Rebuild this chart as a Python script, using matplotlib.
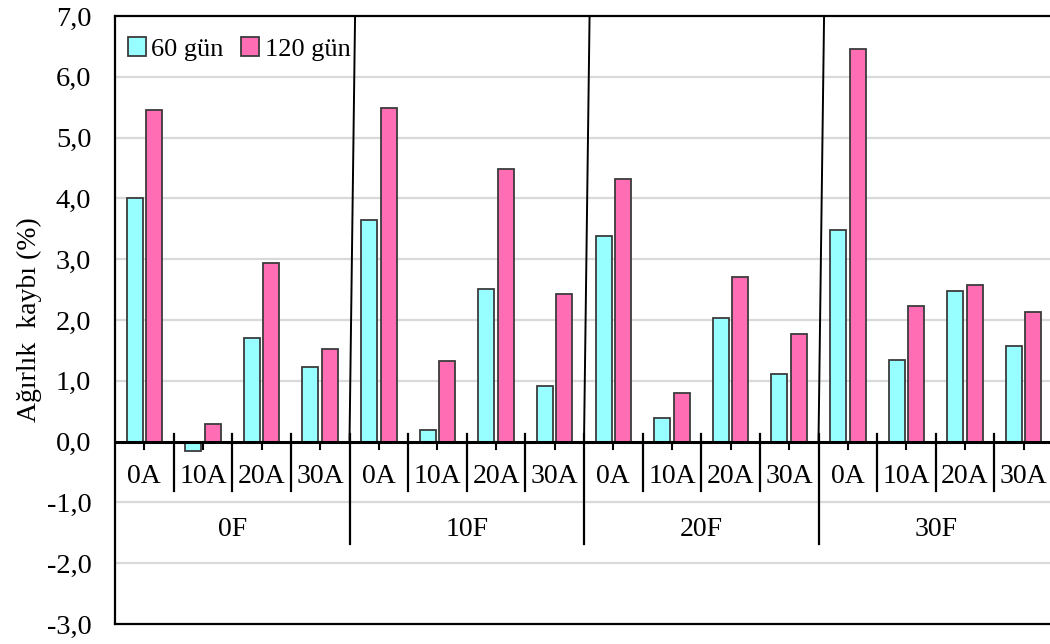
import matplotlib
matplotlib.use("Agg")
import matplotlib.pyplot as plt
import numpy as np

plt.rcParams['font.family'] = ['Liberation Serif', 'DejaVu Serif']

# Weight loss (%) after 60 and 120 days for each mix
groups = ["0F", "10F", "20F", "30F"]
subgroups = ["0A", "10A", "20A", "30A"]
loss_60 = [4.00, -0.15, 1.71, 1.23,
           3.64, 0.19, 2.51, 0.91,
           3.38, 0.38, 2.03, 1.12,
           3.48, 1.35, 2.48, 1.58]
loss_120 = [5.45, 0.29, 2.93, 1.52,
            5.48, 1.32, 4.48, 2.42,
            4.32, 0.80, 2.71, 1.77,
            6.45, 2.23, 2.58, 2.13]
y_ticks = [-3, -2, -1, 0, 1, 2, 3, 4, 5, 6, 7]

c60 = "#97FFFF"
c120 = "#FF6EB4"
edge = "#3c3c3c"

fig = plt.figure(figsize=(10.5, 6.44), dpi=100)
ax = fig.add_axes([115 / 1050, 1 - 624 / 644, 938 / 1050, 608 / 644])

n = len(loss_60)
centers = np.arange(n) + 0.5
bw = 0.273
off = 0.166

ax.bar(centers - off, loss_60, width=bw, color=c60, edgecolor=edge,
       linewidth=1.3, label="60 gün", zorder=3)
ax.bar(centers + off, loss_120, width=bw, color=c120, edgecolor=edge,
       linewidth=1.3, label="120 gün", zorder=3)

ax.set_xlim(0, n)
ax.set_ylim(-3, 7)
ax.set_yticks(y_ticks)
ax.set_yticklabels([f"{v:.1f}".replace(".", ",") for v in y_ticks], fontsize=20.5)
ax.tick_params(axis="y", length=0, pad=17)
ax.set_xticks([])

for v in y_ticks:
    if v not in (-3, 0, 7):
        ax.axhline(v, color="#d9d9d9", linewidth=1.6, zorder=1)

for side in ("left", "top", "bottom"):
    ax.spines[side].set_linewidth(1.6)
    ax.spines[side].set_color("black")
ax.spines["right"].set_visible(False)

# category axis drawn at zero
ax.axhline(0, color="black", linewidth=2.2, zorder=4)
for c in centers:
    ax.plot([c, c], [0, -0.12], color="black", linewidth=1.5, zorder=4)
for b in range(1, n):
    if b % 4 == 0:
        ax.plot([b, b], [0.13, -1.68], color="black", linewidth=1.6, zorder=4)
        ax.plot([b + 0.095, b], [7, 0], color="black", linewidth=1.4, zorder=4)
    else:
        ax.plot([b, b], [0.13, -0.82], color="black", linewidth=1.6, zorder=4)

for i, c in enumerate(centers):
    ax.text(c, -0.58, subgroups[i % 4], ha="center", va="center", fontsize=20)
for g, name in enumerate(groups):
    ax.text(g * 4 + 2, -1.44, name, ha="center", va="center", fontsize=20)

ax.set_ylabel("Ağırlık  kaybı (%)", fontsize=20, labelpad=3)

ax.legend(loc="upper left", bbox_to_anchor=(-0.009, 1.0), ncol=2, frameon=False,
          fontsize=19, handlelength=0.7, handleheight=0.7,
          handletextpad=0.2, columnspacing=0.65, borderaxespad=0.4,
          borderpad=0.4)

fig.savefig("out.png", dpi=100)
